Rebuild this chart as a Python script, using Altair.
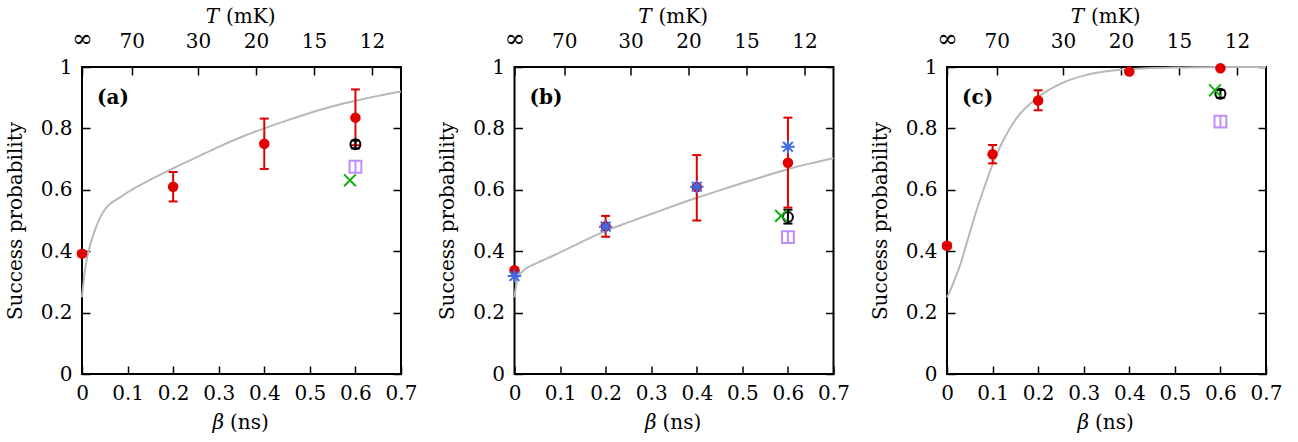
import altair as alt
import pandas as pd

FONT = "DejaVu Serif"
FS = 20
RED = "#e00000"
GRAY = "#b8b8b8"
PURPLE = "#bf8cff"
GREEN = "#12b012"
BLUE = "#4169e1"

# theory curves
beta_grid = [0, 0.005, 0.01, 0.02, 0.03, 0.04, 0.05, 0.06, 0.08, 0.1, 0.15, 0.2,
             0.25, 0.3, 0.35, 0.4, 0.45, 0.5, 0.55, 0.6, 0.65, 0.7]
curve_a = [0.25, 0.32, 0.37, 0.43, 0.475, 0.51, 0.535, 0.552, 0.572, 0.592, 0.633, 0.67,
           0.705, 0.74, 0.772, 0.80, 0.826, 0.85, 0.872, 0.89, 0.906, 0.92]
curve_b = [0.25, 0.30, 0.32, 0.337, 0.348, 0.355, 0.362, 0.369, 0.382, 0.396, 0.432, 0.466,
           0.494, 0.521, 0.548, 0.574, 0.598, 0.622, 0.645, 0.667, 0.686, 0.703]
curve_c = [0.25, 0.265, 0.282, 0.32, 0.36, 0.41, 0.46, 0.51, 0.60, 0.683, 0.828, 0.902,
           0.946, 0.972, 0.986, 0.993, 0.997, 0.998, 0.999, 1.0, 1.0, 1.0]

# red measured points with error bars
red_beta_a = [0, 0.2, 0.4, 0.6]
red_p_a = [0.392, 0.61, 0.75, 0.835]
red_lo_a = [0.384, 0.562, 0.668, 0.745]
red_hi_a = [0.400, 0.658, 0.832, 0.927]

red_beta_b = [0, 0.2, 0.4, 0.6]
red_p_b = [0.338, 0.481, 0.609, 0.688]
red_lo_b = [0.332, 0.447, 0.50, 0.542]
red_hi_b = [0.344, 0.515, 0.713, 0.835]

red_beta_c = [0, 0.1, 0.2, 0.4, 0.6]
red_p_c = [0.418, 0.716, 0.891, 0.985, 0.996]
red_lo_c = [0.41, 0.686, 0.859, 0.985, 0.996]
red_hi_c = [0.426, 0.746, 0.924, 0.985, 0.996]

# blue asterisks (panel b)
blue_beta_b = [0, 0.2, 0.4, 0.6]
blue_p_b = [0.319, 0.48, 0.61, 0.74]

# black open circles: beta, p, lo, hi per panel
black_a = [0.6, 0.748, 0.735, 0.76]
black_b = [0.6, 0.511, 0.49, 0.535]
black_c = [0.6, 0.913, 0.90, 0.925]

# purple open squares: beta, p, lo, hi
purple_a = [0.6, 0.675, 0.655, 0.695]
purple_b = [0.6, 0.446, 0.426, 0.466]
purple_c = [0.6, 0.822, 0.802, 0.842]

# green crosses: beta, p
green_a = [0.588, 0.631]
green_b = [0.585, 0.515]
green_c = [0.588, 0.924]

x_ticks = [0, 0.1, 0.2, 0.3, 0.4, 0.5, 0.6, 0.7]
y_ticks = [0, 0.2, 0.4, 0.6, 0.8, 1.0]
T_labels = ["∞", "70", "30", "20", "15", "12"]
T_mK = [None, 70, 30, 20, 15, 12]
HBAR_OVER_K = 7.6382  # ns * mK
T_pos = [0.0 if t is None else HBAR_OVER_K / t for t in T_mK]

t_expr = "''"
for pos, lab in zip(reversed(T_pos), reversed(T_labels)):
    t_expr = f"abs(datum.value - {pos}) < 1e-6 ? '{lab}' : ({t_expr})"

X_EXPR = "datum.value == 0 ? '0' : format(datum.value, '.1f')"
Y_EXPR = "datum.value == 0 ? '0' : (datum.value == 1 ? '1' : format(datum.value, '.1f'))"

W, H = 319, 307
xs = alt.Scale(domain=[0, 0.7], nice=False, zero=False)
ys = alt.Scale(domain=[0, 1], nice=False, zero=False)

CROSS = "M-1,-1L1,1M-1,1L1,-1"
STAR = "M-1,0L1,0M0,-1L0,1M-0.72,-0.72L0.72,0.72M-0.72,0.72L0.72,-0.72"

AX = dict(tickSize=8, offset=-8, domain=False, tickColor="black", tickWidth=1.5,
          labelFont=FONT, titleFont=FONT, titleFontSize=FS,
          labelColor="black", titleColor="black", grid=False, titleFontWeight="normal",
          labelFlush=False, labelOverlap=False)


def xq(field):
    return alt.X(field, type="quantitative", scale=xs, axis=None)


def yq(field):
    return alt.Y(field, type="quantitative", scale=ys, axis=None)


def errbars(df, color, caps=True):
    layers = [alt.Chart(df).mark_rule(color=color, strokeWidth=2).encode(
        x=xq("beta"), y=yq("lo"), y2="hi")]
    if caps:
        for f in ["lo", "hi"]:
            layers.append(alt.Chart(df).mark_tick(
                orient="horizontal", size=9, thickness=2, color=color, opacity=1
            ).encode(x=xq("beta"), y=yq(f)))
    return layers


def text(s, x, y, align, style="normal", weight="normal"):
    return alt.Chart(alt.Data(values=[{}])).mark_text(
        text=s, font=FONT, fontSize=FS, fontStyle=style, fontWeight=weight,
        align=align, baseline="middle", color="black"
    ).encode(x=alt.value(x), y=alt.value(y))


def panel(tag, curve, rb, rp, rlo, rhi, black, purple, green, blue=None):
    cdf = pd.DataFrame({"beta": beta_grid, "p": curve})
    line = alt.Chart(cdf).mark_line(color=GRAY, strokeWidth=2, interpolate="monotone").encode(
        x=alt.X("beta:Q", scale=xs, axis=alt.Axis(
            orient="bottom", values=x_ticks, labelExpr=X_EXPR, title="",
            labelPadding=9, labelFontSize=FS, **AX)),
        y=alt.Y("p:Q", scale=ys, axis=alt.Axis(
            orient="left", values=y_ticks, labelExpr=Y_EXPR, title="Success probability",
            labelPadding=10, titlePadding=15, labelFontSize=FS, **AX)),
    )
    tdf = pd.DataFrame({"bT": T_pos})
    top = alt.Chart(tdf).mark_point(opacity=0).encode(
        x=alt.X("bT:Q", scale=xs, axis=alt.Axis(
            orient="top", values=T_pos, labelExpr=t_expr, title="",
            labelPadding=16,
            labelFontSize={"condition": {"test": "datum.value == 0", "value": 25}, "value": FS},
            **AX)),
        y=alt.value(0),
    )
    rdf_ax = pd.DataFrame({"yt": y_ticks})
    right = alt.Chart(rdf_ax).mark_point(opacity=0).encode(
        x=alt.value(0),
        y=alt.Y("yt:Q", scale=ys, axis=alt.Axis(
            orient="right", values=y_ticks, labels=False, title="", labelFontSize=FS, **AX)),
    )
    rdf = pd.DataFrame({"beta": rb, "p": rp, "lo": rlo, "hi": rhi})
    layers = [line, top, right]
    layers += errbars(rdf, RED)
    layers.append(alt.Chart(rdf).mark_point(
        filled=True, shape="circle", size=110, color=RED, opacity=1
    ).encode(x=xq("beta"), y=yq("p")))

    bdf = pd.DataFrame({"beta": [black[0]], "p": [black[1]], "lo": [black[2]], "hi": [black[3]]})
    layers += errbars(bdf, "black")
    layers.append(alt.Chart(bdf).mark_point(
        filled=False, shape="circle", size=100, strokeWidth=2, color="black", opacity=1
    ).encode(x=xq("beta"), y=yq("p")))

    pdf = pd.DataFrame({"beta": [purple[0]], "p": [purple[1]], "lo": [purple[2]], "hi": [purple[3]]})
    layers += errbars(pdf, PURPLE, caps=False)
    layers.append(alt.Chart(pdf).mark_point(
        filled=False, shape="square", size=140, strokeWidth=2, color=PURPLE, opacity=1
    ).encode(x=xq("beta"), y=yq("p")))

    gdf = pd.DataFrame({"beta": [green[0]], "p": [green[1]]})
    layers.append(alt.Chart(gdf).mark_point(
        filled=False, shape=CROSS, size=140, strokeWidth=2, color=GREEN, opacity=1
    ).encode(x=xq("beta"), y=yq("p")))

    if blue is not None:
        bl = pd.DataFrame({"beta": blue[0], "p": blue[1]})
        layers.append(alt.Chart(bl).mark_point(
            filled=False, shape=STAR, size=180, strokeWidth=2, color=BLUE, opacity=1
        ).encode(x=xq("beta"), y=yq("p")))

    layers.append(text(tag, 15, 31, "left", weight="bold"))
    # axis titles with italic symbols
    layers.append(text("β", 142, H + 49, "right", style="italic"))
    layers.append(text("(ns)", 148, H + 49, "left"))
    layers.append(text("T", 137, -50, "right", style="italic"))
    layers.append(text("(mK)", 144, -50, "left"))

    return alt.layer(*layers).properties(width=W, height=H)


pa = panel("(a)", curve_a, red_beta_a, red_p_a, red_lo_a, red_hi_a, black_a, purple_a, green_a)
pb = panel("(b)", curve_b, red_beta_b, red_p_b, red_lo_b, red_hi_b, black_b, purple_b, green_b,
           blue=(blue_beta_b, blue_p_b))
pc = panel("(c)", curve_c, red_beta_c, red_p_c, red_lo_c, red_hi_c, black_c, purple_c, green_c)

chart = alt.hconcat(pa, pb, pc, spacing=113.5, bounds="flush").properties(
    padding={"left": 4, "top": 6, "right": 5, "bottom": 5},
    background="white",
).configure_view(
    stroke="black", strokeWidth=2
).configure_axis(labelFontSize=FS, **AX)

chart.save("out.html", embed_options={"renderer": "svg", "actions": False})
